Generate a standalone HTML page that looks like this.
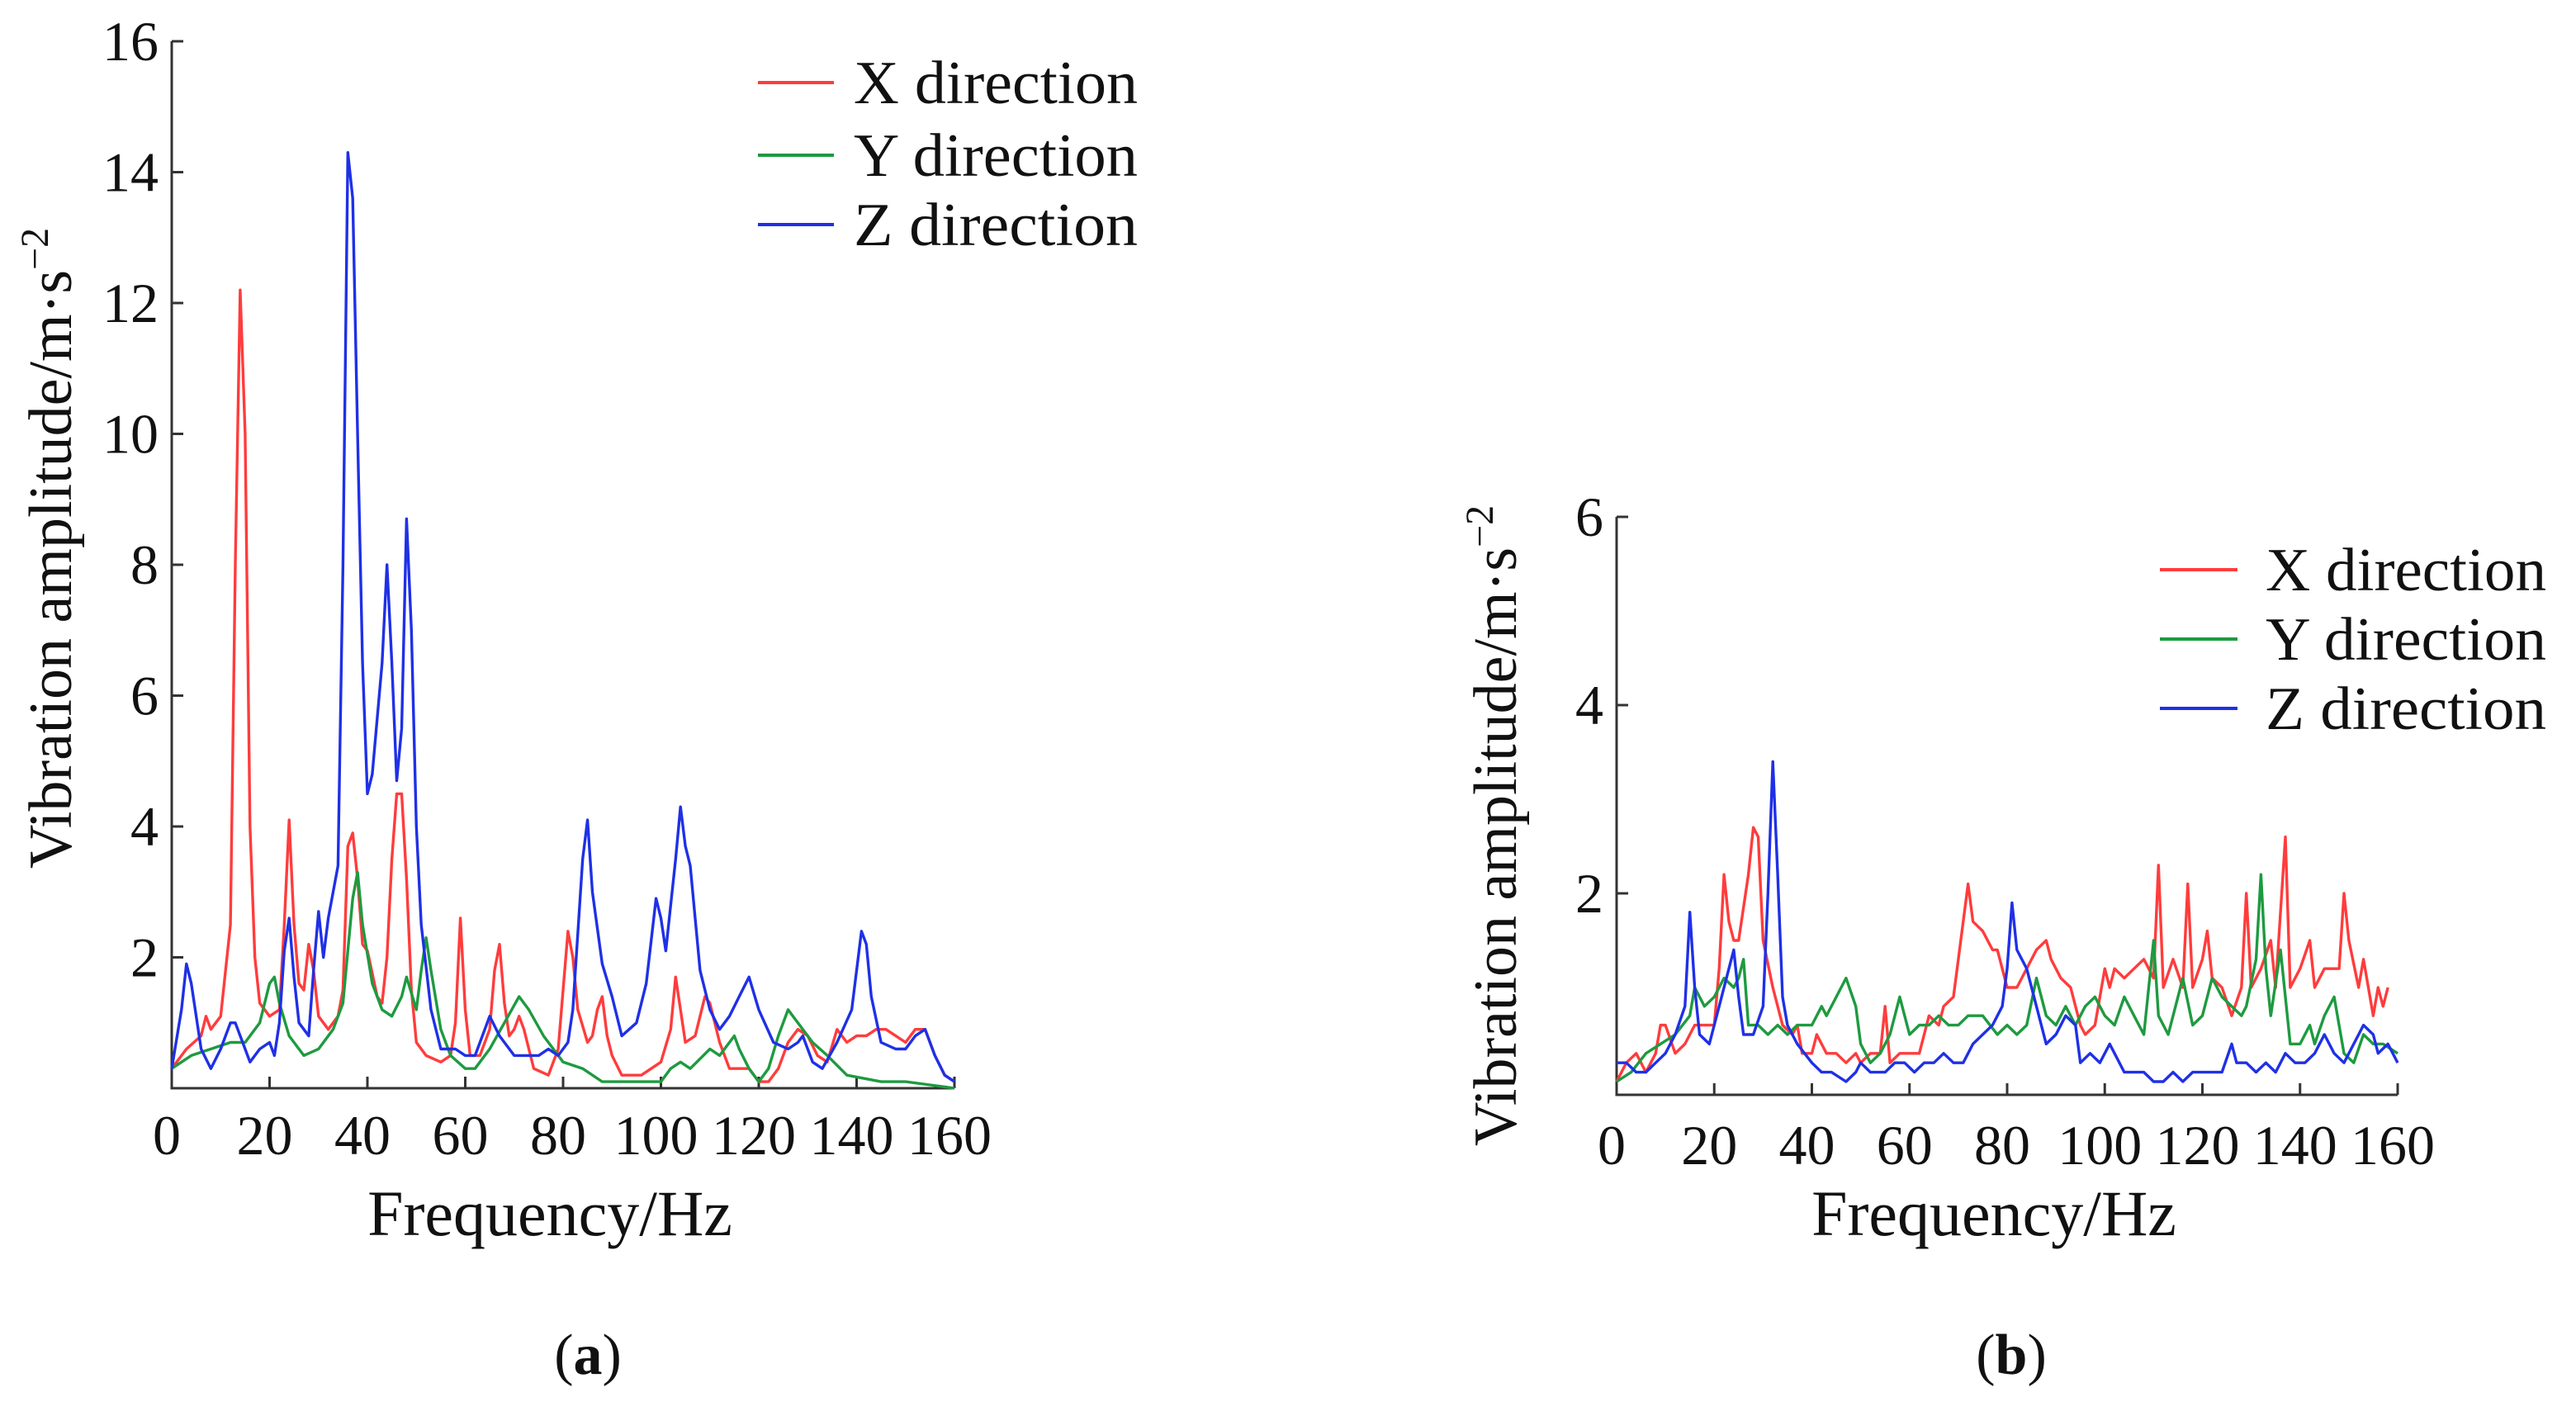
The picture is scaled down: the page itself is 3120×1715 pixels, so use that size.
<!DOCTYPE html>
<html><head><meta charset="utf-8"><style>
html,body{margin:0;padding:0;background:#fff;}
svg{display:block;}
text{font-family:"Liberation Serif",serif;fill:#111;}
</style></head><body>
<svg id="fig" width="3120" height="1715" viewBox="0 0 3120 1715" xmlns="http://www.w3.org/2000/svg">
<g id="pa"></g>
<g id="pb"></g>
<text x="712" y="1664" font-size="70" text-anchor="middle">(<tspan font-weight="bold">a</tspan>)</text>
<text x="2436" y="1664" font-size="70" text-anchor="middle">(<tspan font-weight="bold">b</tspan>)</text>
</svg>
<script>
// ---- Chart (a) data ----
const aXf=[0,3,6,7,8,10,12,13,14,15,16,17,18,20,22,23,24,25,26,27,28,29,30,32,34,35,36,37,38,39,40,42,43,44,45,46,47,48,49,50,52,55,57,58,59,60,61,63,65,66,67,68,69,70,71,72,74,77,79,80,81,82,83,85,86,87,88,89,90,92,96,100,102,103,104,105,107,109,110,112,114,118,120,122,124,126,128,130,132,134,136,137,138,140,142,144,146,148,150,152,154,156,158,160];
const aXv=[0.3,0.6,0.8,1.1,0.9,1.1,2.5,8,12.2,10,4,2,1.3,1.1,1.2,2.5,4.1,2.5,1.6,1.5,2.2,1.8,1.1,0.9,1.1,1.5,3.7,3.9,3.2,2.2,2.1,1.4,1.3,2,3.5,4.5,4.5,3.2,1.5,0.7,0.5,0.4,0.5,1,2.6,1.2,0.5,0.5,0.9,1.8,2.2,1.3,0.8,0.9,1.1,0.9,0.3,0.2,0.6,1.5,2.4,2,1.2,0.7,0.8,1.2,1.4,0.8,0.5,0.2,0.2,0.4,0.9,1.7,1.2,0.7,0.8,1.4,1.3,0.7,0.3,0.3,0.1,0.1,0.3,0.7,0.9,0.8,0.5,0.4,0.9,0.8,0.7,0.8,0.8,0.9,0.9,0.8,0.7,0.9,0.9,0.5,0.2,0.1];
const aYf=[0,4,8,12,15,18,20,21,22,24,27,30,33,35,37,38,39,41,43,45,47,48,50,51,52,53,55,57,60,62,65,68,71,73,76,80,84,88,95,100,102,104,106,110,112,115,116,118,120,122,124,126,128,131,134,138,145,150,155,160];
const aYv=[0.3,0.5,0.6,0.7,0.7,1.0,1.6,1.7,1.3,0.8,0.5,0.6,0.9,1.3,2.9,3.3,2.5,1.6,1.2,1.1,1.4,1.7,1.2,1.8,2.3,1.8,0.9,0.5,0.3,0.3,0.6,1,1.4,1.2,0.8,0.4,0.3,0.1,0.1,0.1,0.3,0.4,0.3,0.6,0.5,0.8,0.6,0.3,0.1,0.3,0.8,1.2,1.0,0.7,0.5,0.2,0.1,0.1,0.05,0];
const aZf=[0,2,3,4,6,8,10,12,13,15,16,18,20,21,22,23,24,25,26,28,29,30,31,32,34,35,36,37,38,39,40,41,43,44,45,46,47,48,49,50,51,53,55,58,60,62,64,65,67,70,75,77,79,81,82,84,85,86,88,90,92,95,97,99,100,101,103,104,105,106,108,110,112,114,116,118,120,123,126,128,129,131,133,136,139,141,142,143,145,148,150,152,154,156,158,160];
const aZv=[0.3,1.2,1.9,1.6,0.6,0.3,0.6,1.0,1.0,0.6,0.4,0.6,0.7,0.5,1.0,2.1,2.6,1.7,1.0,0.8,1.8,2.7,2.0,2.6,3.4,8,14.3,13.6,10,6.5,4.5,4.8,6.5,8.0,6.5,4.7,5.5,8.7,7,4,2.5,1.2,0.6,0.6,0.5,0.5,0.9,1.1,0.8,0.5,0.5,0.6,0.5,0.7,1.2,3.5,4.1,3,1.9,1.4,0.8,1.0,1.6,2.9,2.6,2.1,3.5,4.3,3.7,3.4,1.8,1.2,0.9,1.1,1.4,1.7,1.2,0.7,0.6,0.7,0.8,0.4,0.3,0.7,1.2,2.4,2.2,1.4,0.7,0.6,0.6,0.8,0.9,0.5,0.2,0.1];
const aYTicks=[2,4,6,8,10,12,14,16];
const aXTicks=[0,20,40,60,80,100,120,140,160];
// ---- Chart (b) data ----
const bXf=[0,2,4,6,8,9,10,12,14,16,18,20,21,22,23,24,25,27,28,29,30,32,34,36,37,38,40,41,43,45,47,49,50,52,54,55,56,58,60,62,64,66,67,69,70,72,73,75,77,78,79,80,82,84,86,88,89,91,93,95,96,98,100,101,102,104,106,108,110,111,112,114,116,117,118,120,121,122,124,126,128,129,130,132,134,135,137,138,140,142,143,145,148,149,150,152,153,155,156,157,158];
const bXv=[0,0.2,0.3,0.1,0.3,0.6,0.6,0.3,0.4,0.6,0.6,0.6,1.2,2.2,1.7,1.5,1.5,2.2,2.7,2.6,1.5,1.0,0.6,0.5,0.6,0.3,0.3,0.5,0.3,0.3,0.2,0.3,0.2,0.3,0.3,0.8,0.2,0.3,0.3,0.3,0.7,0.6,0.8,0.9,1.3,2.1,1.7,1.6,1.4,1.4,1.2,1.0,1.0,1.2,1.4,1.5,1.3,1.1,1.0,0.6,0.5,0.6,1.2,1.0,1.2,1.1,1.2,1.3,1.1,2.3,1.0,1.3,1.0,2.1,1.0,1.3,1.6,1.1,1.0,0.7,1.0,2.0,1.0,1.2,1.5,1.0,2.6,1.0,1.2,1.5,1.0,1.2,1.2,2.0,1.5,1.0,1.3,0.7,1.0,0.8,1.0];
const bYf=[0,3,6,9,12,15,16,17,18,20,22,24,25,26,27,29,31,33,35,37,40,42,43,45,47,49,50,52,54,56,58,60,62,64,66,68,70,72,75,78,80,82,84,86,88,90,92,94,96,98,100,102,104,106,108,110,111,113,115,116,118,120,122,124,126,128,129,131,132,133,134,136,138,140,142,143,145,147,149,151,153,155,157,160];
const bYv=[0.0,0.1,0.3,0.4,0.5,0.7,1.0,0.9,0.8,0.9,1.1,1.0,1.1,1.3,0.6,0.6,0.5,0.6,0.5,0.6,0.6,0.8,0.7,0.9,1.1,0.8,0.4,0.2,0.3,0.5,0.9,0.5,0.6,0.6,0.7,0.6,0.6,0.7,0.7,0.5,0.6,0.5,0.6,1.1,0.7,0.6,0.8,0.6,0.8,0.9,0.7,0.6,0.9,0.7,0.5,1.5,0.7,0.5,0.9,1.1,0.6,0.7,1.1,0.9,0.8,0.7,0.8,1.3,2.2,1.2,0.7,1.4,0.4,0.4,0.6,0.4,0.7,0.9,0.3,0.2,0.5,0.4,0.4,0.3];
const bZf=[0,2,4,6,8,10,12,14,15,16,17,19,21,23,24,25,26,28,30,31,32,33,34,35,37,40,42,44,47,49,50,52,55,57,59,61,63,65,67,69,71,73,75,77,79,80,81,82,84,86,88,90,92,94,95,97,99,101,102,104,106,108,110,112,114,116,118,120,122,124,126,127,129,131,133,135,137,139,141,143,145,147,149,151,153,155,156,158,160];
const bZv=[0.2,0.2,0.1,0.1,0.2,0.3,0.5,0.8,1.8,1.0,0.5,0.4,0.8,1.2,1.4,0.9,0.5,0.5,0.8,2.0,3.4,2.2,0.9,0.6,0.4,0.2,0.1,0.1,0.0,0.1,0.2,0.1,0.1,0.2,0.2,0.1,0.2,0.2,0.3,0.2,0.2,0.4,0.5,0.6,0.8,1.2,1.9,1.4,1.2,0.8,0.4,0.5,0.7,0.6,0.2,0.3,0.2,0.4,0.3,0.1,0.1,0.1,0.0,0.0,0.1,0.0,0.1,0.1,0.1,0.1,0.4,0.2,0.2,0.1,0.2,0.1,0.3,0.2,0.2,0.3,0.5,0.3,0.2,0.4,0.6,0.5,0.3,0.4,0.2];
const bYTicks=[2,4,6];
const bXTicks=[0,20,40,60,80,100,120,140,160];
const legendLabels=["X direction","Y direction","Z direction"];
const colors=["#ff3c3c","#1e9a40","#1f30e6"];

const NS="http://www.w3.org/2000/svg";
function mk(parent,tag,attrs){const e=document.createElementNS(NS,tag);for(const k in attrs)e.setAttribute(k,attrs[k]);parent.appendChild(e);return e;}

function drawChart(gid,cfg){
  const g=document.getElementById(gid);
  const sx=v=>cfg.x0+(v-0)/160*(cfg.x1-cfg.x0);
  const sy=v=>cfg.y0-v*cfg.yu;
  const ax=mk(g,'path',{d:`M${cfg.x0},${sy(cfg.ymax)} L${cfg.x0},${cfg.axisY} L${cfg.x1},${cfg.axisY}`,fill:'none',stroke:'#333','stroke-width':3});
  
  
  cfg.yt.forEach(t=>{
    const y=sy(t);
    const l=mk(g,'line',{x1:cfg.x0,y1:y,x2:cfg.x0+14,y2:y,stroke:'#333','stroke-width':3});
    
    
    const tx=mk(g,'text',{x:cfg.x0-16,y:y+23,'font-size':cfg.fs,'text-anchor':'end'});
    tx.textContent=t;
    
    
  });
  cfg.xt.forEach(t=>{
    const x=sx(t);
    const l=mk(g,'line',{x1:x,y1:cfg.axisY,x2:x,y2:cfg.axisY-14,stroke:'#333','stroke-width':3});
    
    
    const tx=mk(g,'text',{x:x-6,y:cfg.xly,'font-size':cfg.fs,'text-anchor':'middle'});
    tx.textContent=t;
    
    
  });
  const xt=mk(g,'text',{x:(cfg.x0+cfg.x1)/2-16,y:cfg.xty,'font-size':cfg.tfs,'text-anchor':'middle'});
  xt.textContent='Frequency/Hz';
  
  
  const yt=mk(g,'text',{x:0,y:0,'font-size':cfg.ytfs,'text-anchor':'middle',transform:`translate(${cfg.ytx},${cfg.yty}) rotate(-90)`});
  yt.innerHTML='Vibration amplitude/m·s<tspan dy="-28" font-size="48">−2</tspan>';
  
  
  cfg.series.forEach((s,i)=>{
    const d=s[0].map((f,j)=>(j?'L':'M')+sx(f).toFixed(1)+','+sy(s[1][j]).toFixed(1)).join(' ');
    const p=mk(g,'path',{d:d,fill:'none',stroke:colors[i],'stroke-width':3.4,'stroke-linejoin':'round'});
    
    
  });
  legendLabels.forEach((lab,i)=>{
    const y=cfg.ly[i];
    const l=mk(g,'line',{x1:cfg.lx,y1:y,x2:cfg.lx+cfg.lw,y2:y,stroke:colors[i],'stroke-width':4});
    
    
    const t=mk(g,'text',{x:cfg.ltx,y:y+25,'font-size':cfg.lfs,'textLength':cfg.ltl,'lengthAdjust':'spacingAndGlyphs'});
    t.textContent=lab;
    
    
  });
}
drawChart('pa',{x0:208,x1:1156,y0:1318,axisY:1318,yu:79.25,ymax:16,yt:aYTicks,xt:aXTicks,fs:68,tfs:78,ytfs:74,xly:1398,xty:1496,ytx:86,yty:664,
  series:[[aXf,aXv],[aYf,aYv],[aZf,aZv]],lx:918,lw:92,ltx:1034,ly:[100,188,272],lfs:74,ltl:344});
drawChart('pb',{x0:1958,x1:2904,y0:1310,axisY:1326,yu:114,ymax:6,yt:bYTicks,xt:bXTicks,fs:68,tfs:78,ytfs:74,xly:1410,xty:1496,ytx:1836,yty:1000,
  series:[[bXf,bXv],[bYf,bYv],[bZf,bZv]],lx:2616,lw:94,ltx:2744,ly:[690,774,858],lfs:74,ltl:340});
</script>
</body></html>
